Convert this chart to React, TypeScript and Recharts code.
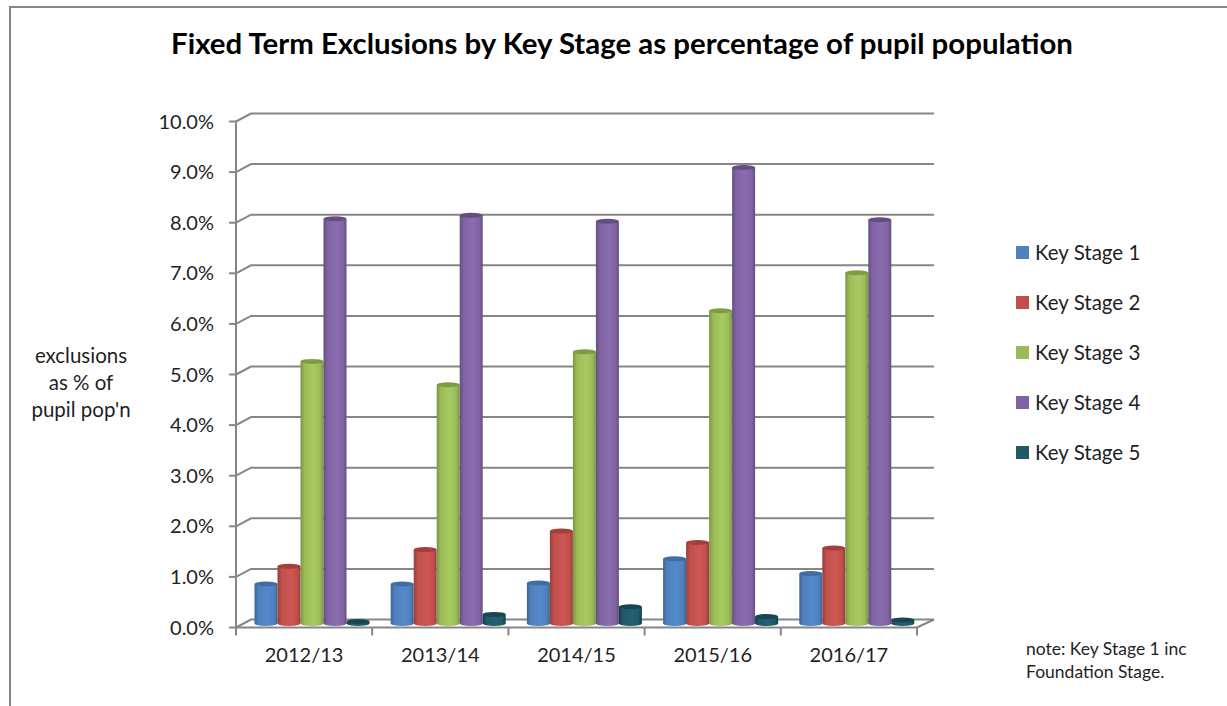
import { BarChart, Bar, XAxis, YAxis, CartesianGrid, Legend } from 'recharts';

const years = ['2012/13', '2013/14', '2014/15', '2015/16', '2016/17'];
const keyStage1 = [0.78, 0.78, 0.8, 1.28, 0.99];
const keyStage2 = [1.13, 1.46, 1.83, 1.6, 1.49];
const keyStage3 = [5.18, 4.72, 5.37, 6.18, 6.93];
const keyStage4 = [8.0, 8.07, 7.95, 9.01, 7.98];
const keyStage5 = [0.04, 0.18, 0.33, 0.14, 0.07];
const yTicks = [0, 1, 2, 3, 4, 5, 6, 7, 8, 9, 10];
const axisLabelLines = ['exclusions', 'as % of', "pupil pop'n"];
const noteLines = ['note: Key Stage 1 inc', 'Foundation Stage.'];

const data = years.map((year, i) => ({
  year,
  ks1: keyStage1[i],
  ks2: keyStage2[i],
  ks3: keyStage3[i],
  ks4: keyStage4[i],
  ks5: keyStage5[i],
}));

const series = [
  { key: 'ks1', name: 'Key Stage 1', color: '#4f81bd', light: '#5288cc', dark: '#3d6696', top: '#3f6ca3' },
  { key: 'ks2', name: 'Key Stage 2', color: '#c0504d', light: '#d05653', dark: '#983f3d', top: '#a33f3c' },
  { key: 'ks3', name: 'Key Stage 3', color: '#9bbb59', light: '#a8cb60', dark: '#7c9646', top: '#7f9c45' },
  { key: 'ks4', name: 'Key Stage 4', color: '#8064a2', light: '#8a6cb0', dark: '#654f80', top: '#644d84' },
  { key: 'ks5', name: 'Key Stage 5', color: '#215968', light: '#236073', dark: '#163f4b', top: '#174552' },
];

const FONT = 'Lato, sans-serif';
const LINE = '#868686';
const DEPTH_X = 15;
const DEPTH_Y = 8;
const PLOT_LEFT = 236;
const PLOT_RIGHT = 917;
const BAND = (PLOT_RIGHT - PLOT_LEFT) / years.length;

function Cylinder(props: any) {
  const { x, y, width, height, seriesIndex } = props;
  const s = series[seriesIndex];
  const rx = width / 2;
  const ry = 2.5;
  const left = x + 7.5;
  const topY = y - 4;
  const bottomY = topY + height;
  const d = `M${left},${topY} V${bottomY} A${rx},${ry} 0 0 0 ${left + width},${bottomY} V${topY} Z`;
  return (
    <g>
      <path d={d} fill={`url(#cyl-${seriesIndex})`} />
      <ellipse cx={left + rx} cy={topY} rx={rx} ry={ry} fill={s.top} />
    </g>
  );
}

function WallLine(props: any) {
  const { x1, y1 } = props;
  return (
    <path
      d={`M${x1},${y1} L${x1 + DEPTH_X},${y1 - DEPTH_Y} H${PLOT_RIGHT + DEPTH_X + 2}`}
      fill="none"
      stroke={LINE}
      strokeWidth={2}
    />
  );
}

function YearTick(props: any) {
  const { x, y, payload, index } = props;
  const left = x - BAND / 2;
  // the y handed to a custom tick sits 8px below the axis line
  const axisY = y - 8;
  return (
    <g>
      <line x1={left} y1={axisY} x2={left} y2={axisY + 8} stroke={LINE} strokeWidth={2} />
      {index === years.length - 1 && (
        <>
          <line x1={left + BAND} y1={axisY} x2={left + BAND} y2={axisY + 8} stroke={LINE} strokeWidth={2} />
          <line x1={left + BAND} y1={axisY} x2={left + BAND + DEPTH_X + 2} y2={axisY - DEPTH_Y} stroke={LINE} strokeWidth={2} />
        </>
      )}
      <text x={x} y={axisY + 34} textAnchor="middle" fontFamily={FONT} fontSize={20} fill="#1f1f1f">
        {payload.value}
      </text>
    </g>
  );
}

function KeyStageLegend(props: any) {
  const { payload } = props;
  return (
    <div style={{ fontFamily: FONT, fontSize: 20.5, color: '#1f1f1f' }}>
      {payload.map((entry: any) => (
        <div key={entry.value} style={{ display: 'flex', alignItems: 'center', height: 50 }}>
          <span style={{ width: 13, height: 13, background: entry.color, marginRight: 6 }} />
          <span>{entry.value}</span>
        </div>
      ))}
    </div>
  );
}

export default function App() {
  return (
    <div style={{ position: 'absolute', left: 0, top: 0, width: 1227, height: 706, overflow: 'hidden', background: '#fff' }}>
      <div
        style={{
          position: 'absolute',
          left: 9,
          top: 6,
          width: 1300,
          height: 800,
          borderLeft: `2px solid ${LINE}`,
          borderTop: `2px solid ${LINE}`,
        }}
      />
      <div style={{ position: 'absolute', left: 0, top: 0 }}>
        <BarChart
          width={1227}
          height={706}
          data={data}
          barSize={23}
          barGap={0}
          margin={{ top: 121.5, right: 310, bottom: 48.5, left: 176 }}
        >
          <defs>
            {series.map((s, i) => (
              <linearGradient key={s.key} id={`cyl-${i}`} x1="0" y1="0" x2="1" y2="0">
                <stop offset="0%" stopColor={s.dark} />
                <stop offset="18%" stopColor={s.color} />
                <stop offset="58%" stopColor={s.light} />
                <stop offset="85%" stopColor={s.color} />
                <stop offset="100%" stopColor={s.dark} />
              </linearGradient>
            ))}
          </defs>
          <text x={622} y={54} textAnchor="middle" fontFamily={FONT} fontSize={29.4} fontWeight={700} fill="#000">
            Fixed Term Exclusions by Key Stage as percentage of pupil population
          </text>
          {axisLabelLines.map((line, i) => (
            <text key={line} x={81} y={363 + i * 27} textAnchor="middle" fontFamily={FONT} fontSize={20.5} fill="#1f1f1f">
              {line}
            </text>
          ))}
          {noteLines.map((line, i) => (
            <text key={line} x={1026} y={655 + i * 23} fontFamily={FONT} fontSize={17.5} fill="#1f1f1f">
              {line}
            </text>
          ))}
          <CartesianGrid vertical={false} horizontal={(p: any) => <WallLine key={p.key} {...p} />} />
          <XAxis
            dataKey="year"
            height={30}
            axisLine={{ stroke: LINE, strokeWidth: 2 }}
            tickLine={false}
            interval={0}
            tick={(p: any) => <YearTick {...p} />}
          />
          <YAxis
            width={60}
            domain={[0, 10]}
            ticks={yTicks}
            interval={0}
            tickFormatter={(v: number) => `${v.toFixed(1)}%`}
            axisLine={{ stroke: LINE, strokeWidth: 2 }}
            tickLine={{ stroke: LINE, strokeWidth: 2 }}
            tickSize={7}
            tickMargin={15}
            tick={{ fontFamily: FONT, fontSize: 20, fill: '#1f1f1f' }}
          />
          <Legend
            layout="vertical"
            align="center"
            verticalAlign="middle"
            content={<KeyStageLegend />}
            wrapperStyle={{ position: 'absolute', left: 1016, top: 227, width: 180 }}
          />
          {series.map((s, i) => (
            <Bar
              key={s.key}
              dataKey={s.key}
              name={s.name}
              fill={s.color}
              isAnimationActive={false}
              shape={(p: any) => <Cylinder {...p} seriesIndex={i} />}
            />
          ))}
        </BarChart>
      </div>
    </div>
  );
}
